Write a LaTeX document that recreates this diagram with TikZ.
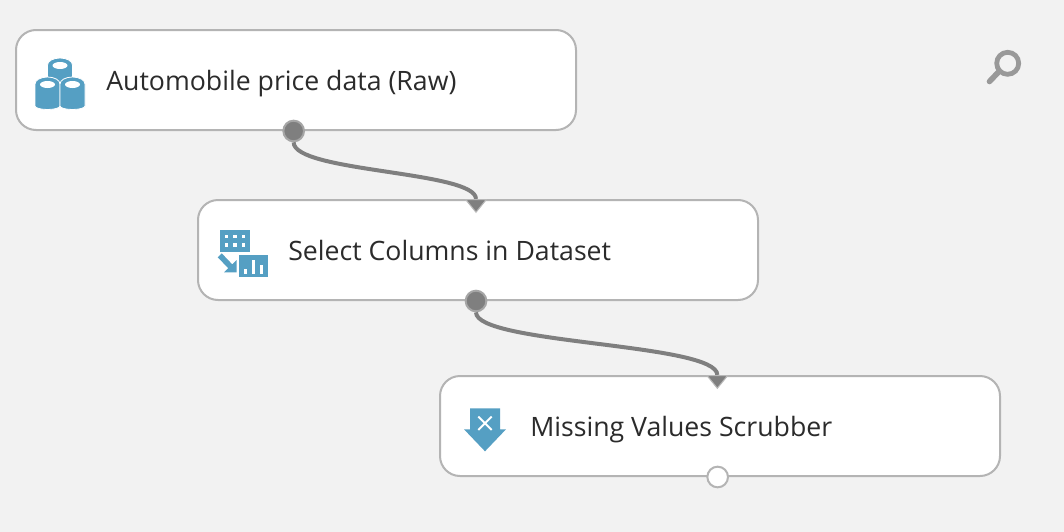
\documentclass[tikz,border=0pt]{standalone}
\usepackage{fontspec}
\setmainfont{Open Sans}
\usetikzlibrary{shapes.geometric,positioning}
\definecolor{canvasgray}{HTML}{F2F2F2}
\definecolor{boxgray}{HTML}{B4B4B4}
\definecolor{icontint}{HTML}{559FC3}
\definecolor{wiregray}{HTML}{7F7F7F}
\definecolor{portrim}{HTML}{A6A6A6}
\definecolor{labelgray}{HTML}{2B2B2B}
\definecolor{lensgray}{HTML}{999999}
\tikzset
{
    modulebox/.style = {rectangle, rounded corners=15pt, draw=boxgray, line width=1.5pt, fill=white, minimum width=420pt, minimum height=75pt, inner sep=0pt},
    modulelabel/.style = {anchor=base west, inner sep=0pt, text=labelgray, font=\fontsize{20}{24}\selectfont},
    outport/.style  = {circle, draw=portrim, line width=1.5pt, fill=wiregray, minimum size=15.5pt, inner sep=0pt},
    openport/.style = {circle, draw=boxgray, line width=1.5pt, fill=white, minimum size=15.5pt, inner sep=0pt},
    inport/.style   = {isosceles triangle, isosceles triangle stretches, shape border rotate=-90, draw=portrim!80!white, line width=0.8pt, fill=wiregray, minimum width=15.5pt, minimum height=9.5pt, inner sep=0pt, anchor=lower side},
    wire/.style     = {draw=wiregray, line width=3pt},
    iconfill/.style = {fill=icontint, draw=none}
}
\begin{document}
\begin{tikzpicture}[x=0.75pt, y=-0.75pt]
    \useasboundingbox (0,0) rectangle (1064,532);
    \fill [canvasgray] (0,0) rectangle (1064,532);
    \node [modulebox] (rawdata) at (296,80) {};
    \node [modulebox, below=51pt of rawdata, xshift=136.5pt] (selectcols) {};
    \node [modulebox, below=55.5pt of selectcols, xshift=181.5pt] (scrubber) {};
    \node [modulelabel] (rawlabel) at ([xshift=68.25pt, yshift=-8pt]rawdata.west) {Automobile price data (Raw)};
    \node [modulelabel] (selectlabel) at ([xshift=68.25pt, yshift=-8pt]selectcols.west) {Select Columns in Dataset};
    \node [modulelabel] (scrubberlabel) at ([xshift=68.25pt, yshift=-8pt]scrubber.west) {Missing Values Scrubber};
    \node [outport] (rawout) at ([xshift=-1.75pt]rawdata.south) {};
    \node [outport] (selectout) at ([xshift=-1.5pt]selectcols.south) {};
    \node [openport] (scrubberout) at ([xshift=-1.75pt]scrubber.south) {};
    \draw [wire] (rawout.south) .. controls +(0,30) and +(0,-28) .. ([xshift=-1.5pt]selectcols.north);
    \draw [wire] (selectout.south) .. controls +(0,32) and +(0,-32) .. ([xshift=-2pt]scrubber.north);
    \node [inport] (selectin) at ([xshift=-1.5pt]selectcols.north) {};
    \node [inport] (scrubberin) at ([xshift=-2pt]scrubber.north) {};
    % cylinders
    \foreach \cx/\top/\bot in {60/58/84, 47.5/77/109, 72.5/77/109}
    {
        \path [iconfill, draw=white, line width=0.6pt] (\cx-12.5,\top+7) arc [start angle=180, end angle=360, x radius=12.5, y radius=7]
            -- (\cx+12.5,\bot-3) arc [start angle=0, end angle=180, x radius=12.5, y radius=3.5] -- cycle;
        \fill [white] (\cx,\top+7.5) ellipse [x radius=7.5, y radius=3.5];
    }
    % table to chart
    \path [iconfill] (220,230) rectangle (249.5,252);
    \foreach \cx in {226.7,235,243.3}
        \foreach \cy in {236.7,245}
            \fill [white] (\cx-1.7,\cy-1.7) rectangle (\cx+1.7,\cy+1.7);
    \path [iconfill] (238.7,255.3) rectangle (268.3,276.7);
    \fill [white] (243.5,269) rectangle (246.7,274.3);
    \fill [white] (251.7,260) rectangle (255,274.3);
    \fill [white] (260,265) rectangle (263.2,274.3);
    \path [iconfill] (217.7,257.3) -- (221.7,253.3) -- (232.3,264.4) -- (236.7,260) -- (236.7,272.3) -- (224,272.3) -- (228.3,268.2) -- cycle;
    % scrub arrow
    \path [iconfill] (470,408.3) -- (500,408.3) -- (500,429.3) -- (506,429.3) -- (485,451.3) -- (464,429.3) -- (470,429.3) -- cycle;
    \draw [white, line width=1.5pt] (478.3,416.6) -- (491.7,430) (478.3,430) -- (491.7,416.6);
    % lens
    \draw [lensgray, line width=3.6pt] (1007.7,63.3) circle [radius=11];
    \draw [lensgray, line width=4.2pt, line cap=round] (989.5,81.5) -- (998.5,72);
\end{tikzpicture}
\end{document}
